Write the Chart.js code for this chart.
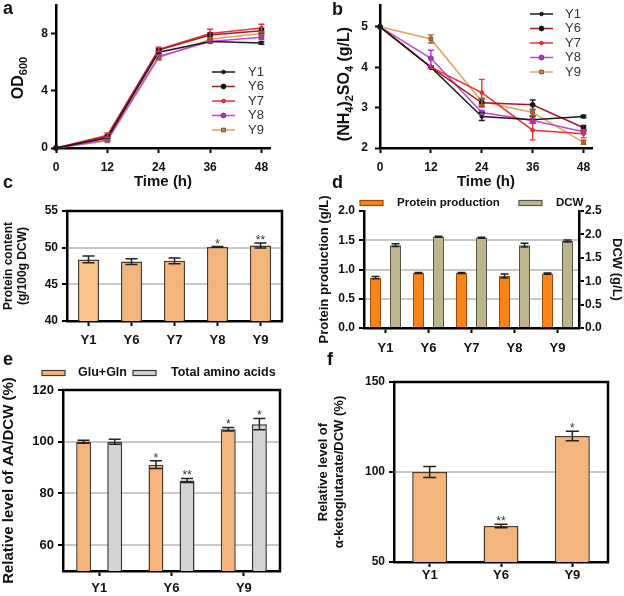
<!DOCTYPE html>
<html><head><meta charset="utf-8">
<script src="https://cdn.jsdelivr.net/npm/chart.js@4.4.0/dist/chart.umd.min.js"></script>
<style>
html,body{margin:0;padding:0;background:#fff;}
#wrap{position:relative;width:624px;height:596px;overflow:hidden;background:#fff;}
canvas{position:absolute;}
.lab{position:absolute;font:bold 18px "Liberation Sans",Arial,sans-serif;color:#111;line-height:normal;}
</style></head><body>
<div id="wrap">
<canvas id="ca" width="312" height="195" style="left:0;top:0"></canvas>
<canvas id="cb" width="312" height="195" style="left:312px;top:0"></canvas>
<canvas id="cc" width="312" height="175" style="left:0;top:195px"></canvas>
<canvas id="cd" width="312" height="180" style="left:312px;top:190px"></canvas>
<canvas id="ce" width="312" height="241" style="left:0;top:355px"></canvas>
<canvas id="cf" width="312" height="241" style="left:312px;top:355px"></canvas>
<div class="lab" style="left:3px;top:-2px">a</div>
<div class="lab" style="left:332px;top:-1px">b</div>
<div class="lab" style="left:3px;top:172px">c</div>
<div class="lab" style="left:332px;top:172px">d</div>
<div class="lab" style="left:3px;top:349px">e</div>
<div class="lab" style="left:327px;top:349px">f</div>
</div>
<script>
// ---------- data ----------
const hours = [0, 12, 24, 36, 48];
const timeTicks = [0, 12, 24, 36, 48];
const strainsLine = ['Y1', 'Y6', 'Y7', 'Y8', 'Y9'];

// a: OD600
const odY1 = [0, 0.7, 6.7, 7.45, 7.35];
const odY6 = [0, 0.8, 6.85, 7.9, 8.2];
const odY7 = [0, 0.9, 6.9, 8.0, 8.4];
const odY8 = [0, 0.55, 6.4, 7.45, 7.75];
const odY9 = [0, 0.5, 6.3, 7.6, 8.0];
const odErrY1 = [0, 0.05, 0.1, 0.1, 0.1];
const odErrY6 = [0, 0.1, 0.1, 0.15, 0.15];
const odErrY7 = [0, 0.15, 0.15, 0.3, 0.25];
const odErrY8 = [0, 0.05, 0.1, 0.1, 0.15];
const odErrY9 = [0, 0.05, 0.15, 0.1, 0.1];
const odTicks = [0, 4, 8];

// b: (NH4)2SO4
const amY1 = [5, 4.0, 2.78, 2.7, 2.78];
const amY6 = [5, 4.0, 3.12, 3.07, 2.5];
const amY7 = [5, 4.0, 3.37, 2.44, 2.35];
const amY8 = [5, 4.22, 2.88, 2.68, 2.4];
const amY9 = [5, 4.7, 3.15, 2.88, 2.14];
const amErrY1 = [0, 0.03, 0.1, 0.08, 0.03];
const amErrY6 = [0, 0.03, 0.1, 0.12, 0.06];
const amErrY7 = [0, 0.03, 0.33, 0.24, 0.1];
const amErrY8 = [0, 0.2, 0.05, 0.05, 0.05];
const amErrY9 = [0, 0.1, 0.08, 0.08, 0.05];
const amTicks = [2, 3, 4, 5];

// c: protein content
const strainsCD = ['Y1', 'Y6', 'Y7', 'Y8', 'Y9'];
const protContent = [48.4, 48.1, 48.2, 50.1, 50.3];
const protContentErr = [0.45, 0.4, 0.4, 0.05, 0.35];
const protContentStars = ['', '', '', '*', '**'];
const protContentTicks = [40, 45, 50, 55];

// d: protein production & DCW
const protProd = [0.86, 0.94, 0.94, 0.89, 0.93];
const protProdErr = [0.02, 0.01, 0.01, 0.035, 0.01];
const dcw = [1.77, 1.95, 1.93, 1.77, 1.86];
const dcwErr = [0.03, 0.01, 0.01, 0.04, 0.02];
const protProdTicks = [0, 0.5, 1.0, 1.5, 2.0];
const dcwTicks = [0, 0.5, 1.0, 1.5, 2.0, 2.5];

// e: relative AA/DCW
const strainsEF = ['Y1', 'Y6', 'Y9'];
const gluGln = [100, 91.1, 104.8];
const gluGlnErr = [0.6, 1.5, 0.7];
const gluGlnStars = ['', '*', '*'];
const totalAA = [100, 85.0, 106.8];
const totalAAErr = [1.0, 0.8, 2.2];
const totalAAStars = ['', '**', '*'];
const aaTicks = [60, 80, 100, 120];

// f: alpha-ketoglutarate
const akg = [100, 70, 120];
const akgErr = [3, 1, 2.7];
const akgStars = ['', '**', '*'];
const akgTicks = [50, 100, 150];

// ---------- helpers ----------
const FONT = '"Liberation Sans", Arial, Helvetica, sans-serif';
Chart.defaults.font.family = FONT;
Chart.defaults.color = '#111';

const errorBars = {
  id: 'errorBars',
  afterDatasetsDraw(chart) {
    const ctx = chart.ctx;
    chart.data.datasets.forEach((ds, i) => {
      if (!ds.errors) return;
      const meta = chart.getDatasetMeta(i);
      const ys = chart.scales[meta.yAxisID];
      ctx.save();
      ctx.strokeStyle = ds.errorColor || '#222';
      ctx.lineWidth = ds.errorWidth || 1.5;
      meta.data.forEach((el, j) => {
        const d = ds.data[j];
        const v = (typeof d === 'object') ? d.y : d;
        const e = ds.errors[j] || 0;
        const x = el.x;
        const yT = ys.getPixelForValue(v + e), yB = ys.getPixelForValue(v - e);
        if (e > 0) {
          const cw = (ds.capWidth || 6) / 2;
          ctx.beginPath();
          ctx.moveTo(x, yT); ctx.lineTo(x, yB);
          ctx.moveTo(x - cw, yT); ctx.lineTo(x + cw, yT);
          ctx.moveTo(x - cw, yB); ctx.lineTo(x + cw, yB);
          ctx.stroke();
        }
        if (ds.stars && ds.stars[j]) {
          ctx.fillStyle = '#333';
          ctx.font = '12px ' + FONT;
          ctx.textAlign = 'center';
          ctx.textBaseline = 'alphabetic';
          ctx.fillText(ds.stars[j], x, yT + 1);
        }
      });
      ctx.restore();
    });
  }
};

const frame = {
  id: 'frame',
  afterDraw(chart, args, opts) {
    if (!opts || !opts.show) return;
    const ctx = chart.ctx, a = chart.chartArea;
    ctx.save();
    ctx.strokeStyle = '#000';
    ctx.lineWidth = 2.5;
    ctx.beginPath();
    ctx.moveTo(a.left - 1, a.top);
    ctx.lineTo(a.right, a.top);
    ctx.lineTo(a.right, a.bottom + 1);
    ctx.stroke();
    ctx.restore();
  }
};

// rotated axis title with subscripts
const richTitle = {
  id: 'richTitle',
  afterDraw(chart, args, opts) {
    if (!opts || !opts.show) return;
    const ctx = chart.ctx;
    const big = 'bold ' + opts.size + 'px ' + FONT;
    const small = 'bold ' + opts.sub + 'px ' + FONT;
    ctx.save();
    let total = 0;
    const widths = opts.segs.map(s => { ctx.font = s.sub ? small : big; const w = ctx.measureText(s.t).width; total += w; return w; });
    ctx.translate(opts.x, opts.y);
    ctx.rotate(-Math.PI / 2);
    ctx.fillStyle = '#111';
    ctx.textAlign = 'left';
    ctx.textBaseline = 'middle';
    let cx = -total / 2;
    opts.segs.forEach((s, i) => {
      ctx.font = s.sub ? small : big;
      ctx.fillText(s.t, cx, s.sub ? opts.size * 0.3 : 0);
      cx += widths[i];
    });
    ctx.restore();
  }
};

const lineLegend = {
  id: 'lineLegend',
  afterDraw(chart, args, opts) {
    if (!opts || !opts.show) return;
    const ctx = chart.ctx;
    chart.data.datasets.forEach((ds, i) => {
      const y = opts.y + i * opts.dy;
      ctx.save();
      ctx.strokeStyle = ds.borderColor;
      ctx.lineWidth = ds.borderWidth;
      ctx.beginPath();
      ctx.moveTo(opts.x, y); ctx.lineTo(opts.x + opts.len, y);
      ctx.stroke();
      ctx.fillStyle = ds.pointBackgroundColor;
      ctx.strokeStyle = ds.pointBorderColor;
      ctx.lineWidth = ds.pointBorderWidth || 1;
      const cx = opts.x + opts.len / 2;
      if (Chart.helpers && Chart.helpers.drawPoint) {
        Chart.helpers.drawPoint(ctx, {pointStyle: ds.pointStyle, radius: ds.pointRadius, rotation: 0, borderWidth: ds.pointBorderWidth || 1}, cx, y);
      } else {
        ctx.beginPath(); ctx.arc(cx, y, ds.pointRadius, 0, Math.PI * 2); ctx.fill(); ctx.stroke();
      }
      ctx.fillStyle = '#333';
      ctx.font = opts.font;
      ctx.textAlign = 'left';
      ctx.textBaseline = 'middle';
      ctx.fillText(ds.label, opts.x + opts.len + opts.gap, y);
      ctx.restore();
    });
  }
};

const boxLegend = {
  id: 'boxLegend',
  afterDraw(chart, args, opts) {
    if (!opts || !opts.show) return;
    const ctx = chart.ctx;
    chart.data.datasets.forEach((ds, i) => {
      const it = opts.items[i];
      const bg = Array.isArray(ds.backgroundColor) ? ds.backgroundColor[0] : ds.backgroundColor;
      ctx.save();
      ctx.fillStyle = bg;
      ctx.strokeStyle = ds.borderColor;
      ctx.lineWidth = 1.2;
      ctx.fillRect(it.x, opts.y - opts.h / 2, opts.w, opts.h);
      ctx.strokeRect(it.x, opts.y - opts.h / 2, opts.w, opts.h);
      ctx.fillStyle = '#111';
      ctx.font = opts.font;
      ctx.textAlign = 'left';
      ctx.textBaseline = 'middle';
      ctx.fillText(ds.label, it.tx, opts.y);
      ctx.restore();
    });
  }
};

function fixW(w) { return s => { s.width = w; s.paddingTop = 0; s.paddingBottom = 0; }; }
function fixH(h) { return s => { s.height = h; s.paddingLeft = 0; s.paddingRight = 0; }; }
function setTicks(vals) { return s => { s.ticks = vals.map(v => ({value: v})); }; }
const GRID_GRAY = '#C8C8C8';
function gridAt(vals) {
  return ctx => (ctx.tick && vals.some(v => Math.abs(v - ctx.tick.value) < 1e-9)) ? GRID_GRAY : 'rgba(0,0,0,0)';
}
const border = {color: '#000', width: 2.5};
function tickFont(sz) { return {size: sz, weight: 'bold'}; }

function baseOpts(pad) {
  return {
    responsive: false, animation: false, devicePixelRatio: 1,
    layout: {padding: pad},
    events: [],
    plugins: {legend: {display: false}, tooltip: {enabled: false}}
  };
}

// ---------- line datasets ----------
const lineColors = ['#1a1a1a', '#A51C24', '#E8333C', '#C147D6', '#E9A15A'];
const pointBg = ['#1a1a1a', '#111111', '#E8333C', '#B035C8', '#C98A50'];
const pointBd = ['#1a1a1a', '#111111', '#C0202A', '#7A2A8A', '#7A4A20'];
const pointStyles = ['circle', 'circle', 'circle', 'circle', 'rect'];
const pointRadii = [1.8, 2.4, 1.8, 2.4, 2.6];
const errColors = ['#1a1a1a', '#222222', '#E8333C', '#B035C8', '#9A6030'];

function lineSets(series, errs) {
  return strainsLine.map((s, i) => ({
    label: s,
    data: hours.map((h, j) => ({x: h, y: series[i][j]})),
    errors: errs[i],
    errorColor: errColors[i],
    errorWidth: 1.4,
    capWidth: 6,
    showLine: true,
    borderColor: lineColors[i],
    borderWidth: 1.5,
    pointBackgroundColor: pointBg[i],
    pointBorderColor: pointBd[i],
    pointBorderWidth: 1,
    pointStyle: pointStyles[i],
    pointRadius: pointRadii[i],
    clip: false
  }));
}

function lineXAxis(hgt) {
  return {
    type: 'linear', min: 0, max: 50,
    afterBuildTicks: setTicks(timeTicks), afterFit: fixH(hgt),
    grid: {drawOnChartArea: false, tickLength: 5, tickWidth: 2, tickColor: '#000'},
    border: border,
    ticks: {font: tickFont(12), color: '#111', padding: 7, maxRotation: 0, autoSkip: false},
    title: {display: true, text: 'Time (h)', color: '#111', font: {size: 15, weight: 'bold'}, padding: {top: 0, bottom: 4}}
  };
}

// ---------- panel a ----------
{
  const o = baseOpts({left: 0, top: 3, right: 42, bottom: 0});
  o.plugins.lineLegend = {show: true, x: 212, y: 72, dy: 14.5, len: 23, gap: 13, font: '13px ' + FONT};
  o.plugins.richTitle = {show: true, x: 19, y: 78, size: 16, sub: 11, segs: [{t: 'OD'}, {t: '600', sub: true}]};
  o.scales = {
    x: lineXAxis(47),
    y: {
      type: 'linear', min: 0, max: 10,
      afterBuildTicks: setTicks(odTicks), afterFit: fixW(56),
      grid: {drawOnChartArea: false, tickLength: 5, tickWidth: 2, tickColor: '#000'},
      border: border,
      ticks: {font: tickFont(12), color: '#111', padding: 3},
      title: {display: false, text: 'OD600'}
    }
  };
  new Chart(document.getElementById('ca'), {
    type: 'scatter',
    data: {datasets: lineSets([odY1, odY6, odY7, odY8, odY9], [odErrY1, odErrY6, odErrY7, odErrY8, odErrY9])},
    options: o,
    plugins: [errorBars, lineLegend, richTitle]
  });
}

// ---------- panel b ----------
{
  const o = baseOpts({left: 0, top: 3, right: 32, bottom: 0});
  o.plugins.lineLegend = {show: true, x: 218, y: 14, dy: 14.5, len: 23, gap: 12, font: '13px ' + FONT};
  o.plugins.richTitle = {show: true, x: 33, y: 84, size: 16, sub: 11,
    segs: [{t: '(NH'}, {t: '4', sub: true}, {t: ')'}, {t: '2', sub: true}, {t: 'SO'}, {t: '4', sub: true}, {t: ' (g/L)'}]};
  o.scales = {
    x: lineXAxis(47),
    y: {
      type: 'linear', min: 2, max: 5.54,
      afterBuildTicks: setTicks(amTicks), afterFit: fixW(68),
      grid: {drawOnChartArea: false, tickLength: 5, tickWidth: 2, tickColor: '#000'},
      border: border,
      ticks: {font: tickFont(12), color: '#111', padding: 7},
      title: {display: false, text: '(NH4)2SO4 (g/L)'}
    }
  };
  new Chart(document.getElementById('cb'), {
    type: 'scatter',
    data: {datasets: lineSets([amY1, amY6, amY7, amY8, amY9], [amErrY1, amErrY6, amErrY7, amErrY8, amErrY9])},
    options: o,
    plugins: [errorBars, lineLegend, richTitle]
  });
}

function catXAxis(hgt, pad) {
  return {
    type: 'category',
    afterFit: fixH(hgt),
    grid: {offset: false, drawOnChartArea: false, tickLength: 5, tickWidth: 2, tickColor: '#000'},
    border: border,
    ticks: {font: tickFont(13), color: '#111', padding: pad, maxRotation: 0, autoSkip: false}
  };
}
function valYAxis(min, max, ticks, grids, w, pad, title, tfont, tpad, fmt) {
  return {
    type: 'linear', min: min, max: max,
    afterBuildTicks: setTicks(ticks), afterFit: fixW(w),
    grid: {drawOnChartArea: true, color: gridAt(grids), lineWidth: 2, tickLength: 5, tickWidth: 2, tickColor: '#000'},
    border: border,
    ticks: {font: tickFont(12), color: '#111', padding: pad, callback: fmt || (v => String(v))},
    title: {display: true, text: title, color: '#111', font: tfont, padding: {top: tpad, bottom: 0}}
  };
}

const ORANGE_L = '#F3B57C';
const ORANGE_L1 = '#F8C38C';
const BAR_BD = '#4A3A2C';

// ---------- panel c ----------
{
  const o = baseOpts({left: 0, top: 16, right: 30, bottom: 0});
  o.plugins.frame = {show: true};
  o.scales = {
    x: catXAxis(49, 7),
    y: valYAxis(40, 55, protContentTicks, [45, 50], 67, 4, ['Protein content', '(g/100g DCW)'], {size: 12, weight: 'bold'}, 1)
  };
  new Chart(document.getElementById('cc'), {
    type: 'bar',
    data: {labels: strainsCD, datasets: [{
      label: 'Protein content', data: protContent, errors: protContentErr, stars: protContentStars, capWidth: 12,
      backgroundColor: [ORANGE_L1, ORANGE_L, ORANGE_L, ORANGE_L, ORANGE_L], borderColor: BAR_BD, borderWidth: 1.5,
      categoryPercentage: 1.0, barPercentage: 0.49
    }]},
    options: o,
    plugins: [errorBars, frame]
  });
}

// ---------- panel d ----------
{
  const o = baseOpts({left: 0, top: 21, right: 0, bottom: 0});
  o.plugins.boxLegend = {show: true, y: 13, w: 23, h: 5, font: 'bold 11.5px ' + FONT, items: [{x: 48, tx: 85}, {x: 207, tx: 244}]};
  const y2 = valYAxis(0, 2.5, dcwTicks, [], 45, 1, 'DCW (g/L)', {size: 13, weight: 'bold'}, 0, v => v.toFixed(1));
  y2.position = 'right';
  y2.grid.drawOnChartArea = false;
  o.scales = {
    x: catXAxis(42, 8),
    y: valYAxis(0, 2, protProdTicks, [0.5, 1.0, 1.5], 52, 4, 'Protein production (g/L)', {size: 13, weight: 'bold'}, 5, v => v.toFixed(1)),
    y2: y2
  };
  new Chart(document.getElementById('cd'), {
    type: 'bar',
    data: {labels: strainsCD, datasets: [
      {label: 'Protein production', data: protProd, errors: protProdErr, capWidth: 8, yAxisID: 'y',
       backgroundColor: '#FB8419', borderColor: '#9A4A0A', borderWidth: 1, categoryPercentage: 0.93, barPercentage: 0.55},
      {label: 'DCW', data: dcw, errors: dcwErr, capWidth: 8, yAxisID: 'y2',
       backgroundColor: '#BDB58C', borderColor: '#555544', borderWidth: 1, categoryPercentage: 0.93, barPercentage: 0.55}
    ]},
    options: o,
    plugins: [errorBars, boxLegend]
  });
}

// ---------- panel e ----------
{
  const o = baseOpts({left: 0, top: 35, right: 32, bottom: 0});
  o.plugins.frame = {show: true};
  o.plugins.boxLegend = {show: true, y: 18, w: 23, h: 5, font: 'bold 12.5px ' + FONT, items: [{x: 42, tx: 78}, {x: 133, tx: 171}]};
  o.scales = {
    x: catXAxis(25, 5),
    y: valYAxis(50, 120, aaTicks, [60, 80, 100], 63, 4, 'Relative level of AA/DCW (%)', {size: 15, weight: 'bold'}, 0)
  };
  o.scales.y.ticks.font = tickFont(13);
  new Chart(document.getElementById('ce'), {
    type: 'bar',
    data: {labels: strainsEF, datasets: [
      {label: 'Glu+Gln', data: gluGln, errors: gluGlnErr, stars: gluGlnStars, capWidth: 12,
       backgroundColor: ORANGE_L, borderColor: BAR_BD, borderWidth: 1.5, categoryPercentage: 0.86, barPercentage: 0.48},
      {label: 'Total amino acids', data: totalAA, errors: totalAAErr, stars: totalAAStars, capWidth: 12,
       backgroundColor: '#D3D3D3', borderColor: '#333333', borderWidth: 1.5, categoryPercentage: 0.86, barPercentage: 0.48}
    ]},
    options: o,
    plugins: [errorBars, frame, boxLegend]
  });
}

// ---------- panel f ----------
{
  const o = baseOpts({left: 0, top: 27, right: 16, bottom: 0});
  o.plugins.frame = {show: true};
  o.scales = {
    x: catXAxis(34, 1),
    y: valYAxis(50, 150, akgTicks, [100], 82, 4, ['Relative level of', 'α-ketoglutarate/DCW (%)'], {size: 13, weight: 'bold'}, 4)
  };
  new Chart(document.getElementById('cf'), {
    type: 'bar',
    data: {labels: strainsEF, datasets: [{
      label: 'α-ketoglutarate', data: akg, errors: akgErr, stars: akgStars, capWidth: 13,
      backgroundColor: ORANGE_L, borderColor: BAR_BD, borderWidth: 1.5, categoryPercentage: 1.0, barPercentage: 0.49
    }]},
    options: o,
    plugins: [errorBars, frame]
  });
}
</script>
</body></html>
